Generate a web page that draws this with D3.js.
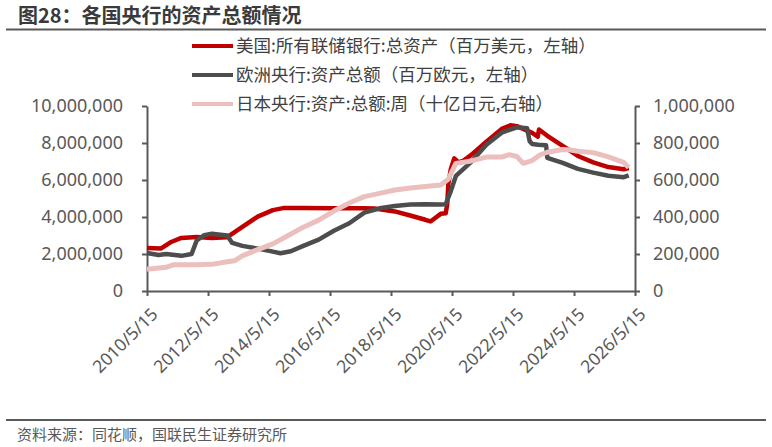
<!DOCTYPE html>
<html>
<head>
<meta charset="utf-8">
<script src="https://cdn.jsdelivr.net/npm/d3@7"></script>
<style>
  body { margin: 0; background: #fff; }
  svg text { font-family: "Noto Sans CJK SC", "Noto Sans", sans-serif; }
</style>
</head>
<body>
<div id="chart"></div>
<script>
// ---- data ----
var fedDates = ["2010-05-15","2010-11-01","2011-03-01","2011-06-30","2011-12-31","2012-06-30","2012-12-31",
  "2013-06-30","2013-12-31","2014-06-30","2014-10-31","2015-06-30","2016-06-30","2017-06-30","2017-10-31",
  "2018-06-30","2018-12-31","2019-06-30","2019-08-31","2019-12-31","2020-02-29","2020-03-18","2020-04-01",
  "2020-05-01","2020-06-10","2020-07-31","2020-09-30","2020-12-31","2021-06-30","2021-12-31","2022-04-15",
  "2022-06-30","2022-12-31","2023-03-08","2023-03-22","2023-06-30","2023-12-31","2024-06-30","2024-12-31",
  "2025-06-30","2025-12-31","2026-03-01"];
var fedValues = [2330000,2300000,2650000,2870000,2920000,2860000,2910000,
  3470000,4020000,4370000,4480000,4490000,4470000,4470000,4460000,
  4300000,4080000,3850000,3760000,4170000,4200000,4670000,5800000,
  6600000,7170000,6950000,7050000,7360000,8070000,8760000,8960000,
  8910000,8550000,8340000,8730000,8390000,7850000,7300000,6950000,
  6700000,6580000,6650000];

var ecbDates = ["2010-05-15","2010-09-30","2010-12-31","2011-06-30","2011-10-31","2011-12-31","2012-03-31",
  "2012-06-30","2012-12-31","2013-02-28","2013-06-30","2013-12-31","2014-06-30","2014-09-30","2015-01-31",
  "2015-06-30","2015-12-31","2016-06-30","2016-12-31","2017-06-30","2017-12-31","2018-06-30","2018-12-31",
  "2019-06-30","2019-12-31","2020-02-29","2020-04-30","2020-06-30","2020-12-31","2021-06-30","2021-12-31",
  "2022-06-30","2022-10-31","2022-11-30","2022-12-31","2023-03-15","2023-06-15","2023-06-30","2023-12-31",
  "2024-06-30","2024-12-31","2025-06-30","2025-12-31","2026-03-01"];
var ecbValues = [2050000,1950000,2000000,1900000,2000000,2730000,3020000,
  3100000,3000000,2600000,2440000,2290000,2130000,2040000,2150000,
  2440000,2780000,3260000,3660000,4240000,4470000,4590000,4670000,
  4690000,4670000,4690000,5400000,6220000,6980000,7900000,8560000,
  8850000,8800000,8100000,7950000,7900000,7880000,7200000,6930000,
  6600000,6400000,6230000,6150000,6250000];

var bojDates = ["2010-05-15","2010-12-31","2011-03-31","2011-12-31","2012-06-30","2012-12-31","2013-03-31",
  "2013-06-30","2013-12-31","2014-06-30","2014-12-31","2015-06-30","2015-12-31","2016-06-30","2016-12-31",
  "2017-06-30","2017-12-31","2018-06-30","2018-12-31","2019-06-30","2019-12-31","2020-03-31","2020-06-30",
  "2020-12-31","2021-06-30","2021-12-31","2022-03-31","2022-06-30","2022-09-15","2022-12-31","2023-03-31",
  "2023-06-30","2023-12-31","2024-03-31","2024-06-30","2024-12-31","2025-06-30","2025-12-31","2026-03-01"];
var bojValues = [117000,128000,142000,142000,144000,158000,164000,
  190000,224000,255000,300000,345000,383000,432000,476000,
  510000,528000,546000,557000,565000,573000,604000,690000,
  703000,724000,724000,737000,727000,690000,705000,735000,
  750000,765000,762000,755000,748000,725000,695000,668000];

var xTickLabels = ["2010/5/15","2012/5/15","2014/5/15","2016/5/15","2018/5/15",
  "2020/5/15","2022/5/15","2024/5/15","2026/5/15"];
var leftTicks = [0,2000000,4000000,6000000,8000000,10000000];
var rightTicks = [0,200000,400000,600000,800000,1000000];

var legendLabels = ["美国:所有联储银行:总资产（百万美元，左轴）",
  "欧洲央行:资产总额（百万欧元，左轴）",
  "日本央行:资产:总额:周（十亿日元,右轴）"];
var seriesColors = ["#c00000", "#4d4d4d", "#ecbfbf"];

// ---- layout ----
var svgWidth = 772, svgHeight = 447;
var plot = { left: 147, right: 635, top: 106, bottom: 291 };
var axisColor = "#595959";

var svg = d3.select("#chart").append("svg")
  .attr("width", svgWidth)
  .attr("height", svgHeight);

var parseDate = d3.timeParse("%Y-%m-%d");
var parseTick = d3.timeParse("%Y/%m/%d");
var tickDates = xTickLabels.map(function(s) { return parseTick(s); });

var x = d3.scaleTime()
  .domain([tickDates[0], tickDates[tickDates.length - 1]])
  .range([plot.left, plot.right]);
var yLeft = d3.scaleLinear().domain([0, 10000000]).range([plot.bottom, plot.top]);
var yRight = d3.scaleLinear().domain([0, 1000000]).range([plot.bottom, plot.top]);

// title
svg.append("text")
  .attr("x", 18).attr("y", 23)
  .attr("font-size", 20).attr("font-weight", "bold")
  .attr("fill", "#3a3a3a")
  .text("图28：各国央行的资产总额情况");
svg.append("line")
  .attr("x1", 6).attr("x2", 766).attr("y1", 29.5).attr("y2", 29.5)
  .attr("stroke", axisColor).attr("stroke-width", 2);

// footer
svg.append("line")
  .attr("x1", 6).attr("x2", 766).attr("y1", 420).attr("y2", 420)
  .attr("stroke", axisColor).attr("stroke-width", 2);
svg.append("text")
  .attr("x", 17).attr("y", 440)
  .attr("font-size", 15).attr("fill", "#595959")
  .text("资料来源：同花顺，国联民生证券研究所");

// axes
function styleAxis(g) {
  g.select(".domain").attr("stroke", axisColor).attr("stroke-width", 2);
  g.selectAll(".tick line").attr("stroke", axisColor).attr("stroke-width", 2);
  g.selectAll("text").attr("fill", "#595959").attr("font-size", 18)
    .style("font-family", "\"Noto Sans\", sans-serif");
}

var fmt = d3.format(",");

var leftAxis = svg.append("g")
  .attr("transform", "translate(" + plot.left + ",0)")
  .call(d3.axisLeft(yLeft).tickValues(leftTicks).tickFormat(fmt).tickSize(5).tickSizeOuter(0).tickPadding(19));
styleAxis(leftAxis);

var rightAxis = svg.append("g")
  .attr("transform", "translate(" + plot.right + ",0)")
  .call(d3.axisRight(yRight).tickValues(rightTicks).tickFormat(fmt).tickSize(5).tickSizeOuter(0).tickPadding(13));
styleAxis(rightAxis);

var bottomAxis = svg.append("g")
  .attr("transform", "translate(0," + plot.bottom + ")")
  .call(d3.axisBottom(x).tickValues(tickDates).tickFormat(function(d, i) { return xTickLabels[i]; })
    .tickSize(5).tickSizeOuter(0));
styleAxis(bottomAxis);
bottomAxis.selectAll("text")
  .attr("font-size", 17.5)
  .attr("text-anchor", "end")
  .attr("dy", "0.35em")
  .attr("y", 0)
  .attr("transform", "translate(7,20) rotate(-45)");

// lines
var seriesList = [
  { dates: fedDates, values: fedValues, y: yLeft, color: seriesColors[0], width: 4.5 },
  { dates: ecbDates, values: ecbValues, y: yLeft, color: seriesColors[1], width: 4.5 },
  { dates: bojDates, values: bojValues, y: yRight, color: seriesColors[2], width: 5 }
];

seriesList.forEach(function(s) {
  var pts = s.dates.map(function(d, i) { return [parseDate(d), s.values[i]]; });
  var line = d3.line()
    .x(function(p) { return x(p[0]); })
    .y(function(p) { return s.y(p[1]); });
  svg.append("path")
    .datum(pts)
    .attr("d", line)
    .attr("fill", "none")
    .attr("stroke", s.color)
    .attr("stroke-width", s.width)
    .attr("stroke-linejoin", "round");
});

// legend
var legend = svg.append("g");
legendLabels.forEach(function(lbl, i) {
  var yy = 46 + i * 29;
  legend.append("line")
    .attr("x1", 192).attr("x2", 233).attr("y1", yy).attr("y2", yy)
    .attr("stroke", seriesColors[i]).attr("stroke-width", 4);
  legend.append("text")
    .attr("x", 236).attr("y", yy)
    .attr("dy", "0.35em")
    .attr("font-size", 17.5).attr("fill", "#404040")
    .text(lbl);
});
</script>
</body>
</html>
